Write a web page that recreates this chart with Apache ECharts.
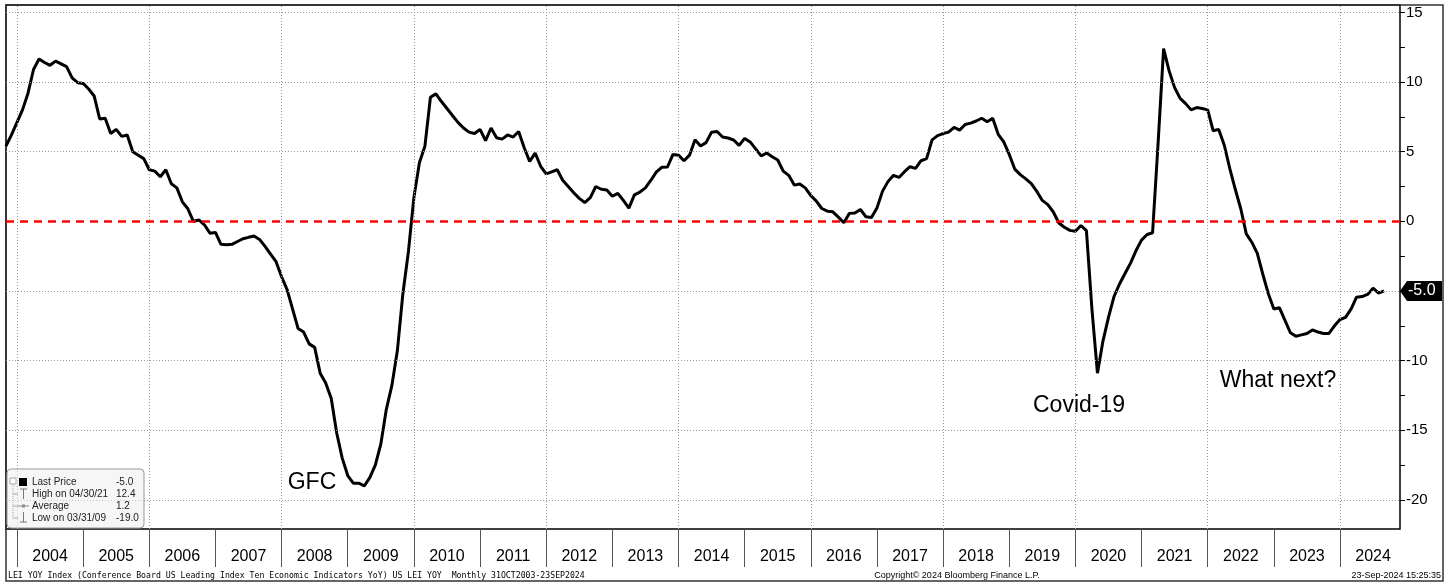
<!DOCTYPE html>
<html>
<head>
<meta charset="utf-8">
<title>LEI YoY</title>
<script src="https://cdn.jsdelivr.net/npm/echarts@6/dist/echarts.min.js"></script>
<style>
  html, body { margin: 0; padding: 0; background: #fff; }
  #chart { width: 1451px; height: 584px; }
</style>
</head>
<body>
<div id="chart"></div>
<script>
// monthly series, first point = end of Oct 2003
var startYear = 2003;
var startMonth = 10;
var leiYoY = [
  5.4, 6.2, 7.1, 8.0, 9.2, 10.9, 11.65, 11.4, 11.2, 11.5,
  11.3, 11.1, 10.3, 9.95, 9.9, 9.5, 9.0, 7.35, 7.4, 6.3,
  6.6, 6.1, 6.2, 5.0, 4.75, 4.5, 3.7, 3.6, 3.2, 3.7,
  2.7, 2.4, 1.4, 0.9, 0.0, 0.1, -0.25, -0.85, -0.8, -1.65,
  -1.68, -1.65, -1.45, -1.25, -1.15, -1.06, -1.3, -1.8, -2.35, -2.9,
  -3.98, -4.9, -6.3, -7.7, -7.95, -8.8, -9.05, -10.9, -11.6, -12.7,
  -15.2, -17.0, -18.25, -18.8, -18.8, -19.0, -18.4, -17.5, -16.0, -13.5,
  -11.8, -9.3, -5.2, -2.2, 1.7, 4.2, 5.4, 8.9, 9.15, 8.6,
  8.1, 7.6, 7.1, 6.7, 6.4, 6.3, 6.6, 5.8, 6.7, 6.0,
  5.9, 6.2, 6.05, 6.45, 5.3, 4.3, 4.9, 3.95, 3.4, 3.55,
  3.7, 2.95, 2.5, 2.05, 1.65, 1.35, 1.7, 2.5, 2.3, 2.25,
  1.8, 2.0, 1.5, 0.95, 1.9, 2.1, 2.4, 2.95, 3.55, 3.88,
  3.9, 4.8, 4.75, 4.35, 4.75, 5.85, 5.4, 5.65, 6.4, 6.45,
  6.05, 5.98, 5.84, 5.45, 5.95, 5.7, 5.2, 4.7, 4.9, 4.63,
  4.4, 3.6, 3.3, 2.6, 2.68, 2.4, 1.85, 1.45, 0.92, 0.73,
  0.68, 0.3, -0.1, 0.57, 0.6, 0.85, 0.33, 0.28, 0.95, 2.15,
  2.85, 3.3, 3.15, 3.56, 3.92, 3.8, 4.35, 4.5, 5.85, 6.15,
  6.3, 6.4, 6.75, 6.55, 6.95, 7.05, 7.2, 7.4, 7.15, 7.4,
  6.25, 5.7, 4.8, 3.75, 3.35, 3.05, 2.7, 2.15, 1.5, 1.2,
  0.67, -0.12, -0.43, -0.65, -0.72, -0.3, -0.67, -6.3, -10.9, -8.6,
  -6.9, -5.4, -4.5, -3.75, -3.0, -2.1, -1.35, -0.95, -0.82, 5.6,
  12.4, 10.8, 9.6, 8.83, 8.45, 8.0, 8.17, 8.1, 8.0, 6.5,
  6.6, 5.48, 3.8, 2.3, 0.9, -0.9, -1.5, -2.3, -3.8, -5.2,
  -6.3, -6.2, -7.1, -8.0, -8.25, -8.15, -8.05, -7.8, -7.95, -8.05,
  -8.05, -7.5, -7.05, -6.9, -6.3, -5.45, -5.4, -5.25, -4.8, -5.15,
  -5.0
];

var yearLabels = [2004, 2005, 2006, 2007, 2008, 2009, 2010, 2011, 2012, 2013, 2014,
                  2015, 2016, 2017, 2018, 2019, 2020, 2021, 2022, 2023, 2024];
var gridYears = [2004, 2006, 2008, 2010, 2012, 2014, 2016, 2018, 2020, 2022, 2024];
var yLabelValues = [15, 10, 5, 0, -10, -15, -20];
var yTickValues = [15, 12.5, 10, 7.5, 5, 2.5, 0, -2.5, -5, -7.5, -10, -12.5, -15, -17.5, -20];
var yGridValues = [15, 10, 5, -5, -10, -15, -20];

var statNames = ['Last Price', 'High on 04/30/21', 'Average', 'Low on 03/31/09'];
var statValues = ['-5.0', '12.4', '1.2', '-19.0'];

var notes = [
  { text: 'GFC', x: 312, y: 483 },
  { text: 'Covid-19', x: 1079, y: 406 },
  { text: 'What next?', x: 1278, y: 381 }
];

// x as decimal year at month end
var seriesData = leiYoY.map(function (v, i) {
  return [startYear + (startMonth + i) / 12, v];
});

var xMin = 2003.834, xMax = 2024.907;
var yMin = -22.09, yMax = 15.53;

var chart = echarts.init(document.getElementById('chart'));

var option = {
  animation: false,
  backgroundColor: '#fff',
  grid: {
    left: 6, right: 51, top: 5, bottom: 55,
    show: true, borderColor: '#000', borderWidth: 1.5, backgroundColor: '#fff'
  },
  xAxis: {
    type: 'value',
    min: xMin, max: xMax,
    axisLine: { show: false, onZero: false },
    splitLine: { show: false },
    axisTick: {
      show: true, inside: false, length: 38,
      customValues: yearLabels,
      lineStyle: { color: '#555', width: 1 }
    },
    axisLabel: {
      customValues: yearLabels.map(function (y) { return y + 0.5; }),
      formatter: function (v) { return String(Math.floor(v)); },
      margin: 20,
      fontSize: 16,
      fontFamily: 'Liberation Sans',
      color: '#000'
    }
  },
  yAxis: {
    type: 'value',
    position: 'right',
    min: yMin, max: yMax,
    axisLine: { show: false, onZero: false },
    splitLine: { show: false },
    axisTick: {
      show: true, length: 5,
      customValues: yTickValues,
      lineStyle: { color: '#000', width: 1 }
    },
    axisLabel: {
      customValues: yLabelValues,
      margin: 6,
      fontSize: 15,
      fontFamily: 'Liberation Sans',
      color: '#000'
    }
  },
  series: [
    {
      // grid lines + zero line, kept under the main line
      type: 'line',
      data: [],
      z: 1,
      silent: true,
      markLine: {
        silent: true,
        symbol: 'none',
        label: { show: false },
        animation: false,
        data: gridYears.map(function (y) {
          return { xAxis: y, lineStyle: { color: '#999', width: 1, type: [1, 2] } };
        }).concat(yGridValues.map(function (v) {
          return { yAxis: v, lineStyle: { color: '#999', width: 1, type: [1, 2] } };
        })).concat([
          { yAxis: 0, lineStyle: { color: '#ff0000', width: 2.5, type: [8, 6] } }
        ])
      }
    },
    {
      name: 'LEI YoY',
      type: 'line',
      data: seriesData,
      z: 3,
      showSymbol: false,
      symbol: 'none',
      lineStyle: { color: '#000', width: 3 },
      itemStyle: { color: '#000' }
    }
  ]
};

chart.setOption(option);

// badge for the last value, placed with the axis scales
var lastVal = leiYoY[leiYoY.length - 1];
var by = chart.convertToPixel({ yAxisIndex: 0 }, lastVal);
var bx = chart.convertToPixel({ xAxisIndex: 0 }, xMax);

var graphics = [];

// outer frame
graphics.push({
  type: 'rect', silent: true, z: 0,
  shape: { x: 6, y: 5, width: 1437, height: 576 },
  style: { fill: 'none', stroke: '#333', lineWidth: 1.5 }
});

graphics.push({
  type: 'polygon', z: 10,
  shape: { points: [[bx, by], [bx + 7, by - 10], [bx + 42, by - 10], [bx + 42, by + 10], [bx + 7, by + 10]] },
  style: { fill: '#000' }
});
graphics.push({
  type: 'text', z: 11, x: bx + 8, y: by,
  style: { text: lastVal.toFixed(1), fill: '#fff', font: '16px "Liberation Sans"', textVerticalAlign: 'middle' }
});

// stats box
var bx0 = 7, by0 = 469;
graphics.push({
  type: 'rect', z: 5,
  shape: { x: bx0, y: by0, width: 137, height: 59, r: 4 },
  style: { fill: 'rgba(238,238,238,0.55)', stroke: '#999', lineWidth: 1 }
});
var rowY = [482, 494, 506, 518];
graphics.push({ type: 'rect', z: 6, shape: { x: 10, y: 478, width: 6, height: 6 }, style: { fill: '#fff', stroke: '#aaa', lineWidth: 1 } });
graphics.push({ type: 'line', z: 6, shape: { x1: 13, y1: 484, x2: 13, y2: 518 }, style: { stroke: '#aaa', lineWidth: 1, lineDash: [1, 1] } });
[494, 506, 518].forEach(function (y) {
  graphics.push({ type: 'line', z: 6, shape: { x1: 13, y1: y, x2: 18, y2: y }, style: { stroke: '#aaa', lineWidth: 1 } });
});
graphics.push({ type: 'rect', z: 6, shape: { x: 19, y: 478, width: 8, height: 8 }, style: { fill: '#000' } });
// high marker
graphics.push({ type: 'line', z: 6, shape: { x1: 20, y1: 489, x2: 27, y2: 489 }, style: { stroke: '#777', lineWidth: 1 } });
graphics.push({ type: 'line', z: 6, shape: { x1: 23.5, y1: 489, x2: 23.5, y2: 499 }, style: { stroke: '#777', lineWidth: 1 } });
// average marker
graphics.push({ type: 'line', z: 6, shape: { x1: 18, y1: 506, x2: 29, y2: 506 }, style: { stroke: '#888', lineWidth: 1 } });
graphics.push({ type: 'rect', z: 6, shape: { x: 22, y: 504.5, width: 3, height: 3 }, style: { fill: '#888' } });
// low marker
graphics.push({ type: 'line', z: 6, shape: { x1: 23.5, y1: 512, x2: 23.5, y2: 522 }, style: { stroke: '#777', lineWidth: 1 } });
graphics.push({ type: 'line', z: 6, shape: { x1: 20, y1: 522, x2: 27, y2: 522 }, style: { stroke: '#777', lineWidth: 1 } });

statNames.forEach(function (n, i) {
  graphics.push({
    type: 'text', z: 6, x: 32, y: rowY[i],
    style: { text: n, fill: '#222', font: '10px "Liberation Sans"', textVerticalAlign: 'middle' }
  });
  graphics.push({
    type: 'text', z: 6, x: 116, y: rowY[i],
    style: { text: statValues[i], fill: '#222', font: '10px "Liberation Sans"', textVerticalAlign: 'middle' }
  });
});

// annotations
notes.forEach(function (n) {
  graphics.push({
    type: 'text', z: 8, x: n.x, y: n.y,
    style: { text: n.text, fill: '#000', font: '23px "Liberation Sans"', textAlign: 'center', textVerticalAlign: 'middle' }
  });
});

// footer
graphics.push({
  type: 'text', z: 6, x: 8, y: 576,
  style: {
    text: 'LEI YOY Index (Conference Board US Leading Index Ten Economic Indicators YoY) US LEI YOY  Monthly 31OCT2003-23SEP2024',
    fill: '#000', font: '8.2px "DejaVu Sans Mono"', textVerticalAlign: 'middle'
  }
});
graphics.push({
  type: 'text', z: 6, x: 957, y: 576,
  style: { text: 'Copyright\u00a9 2024 Bloomberg Finance L.P.', fill: '#000', font: '9px "Liberation Sans"', textAlign: 'center', textVerticalAlign: 'middle' }
});
graphics.push({
  type: 'text', z: 6, x: 1441, y: 576,
  style: { text: '23-Sep-2024 15:25:35', fill: '#000', font: '9px "Liberation Sans"', textAlign: 'right', textVerticalAlign: 'middle' }
});

chart.setOption({ graphic: graphics });
</script>
</body>
</html>
